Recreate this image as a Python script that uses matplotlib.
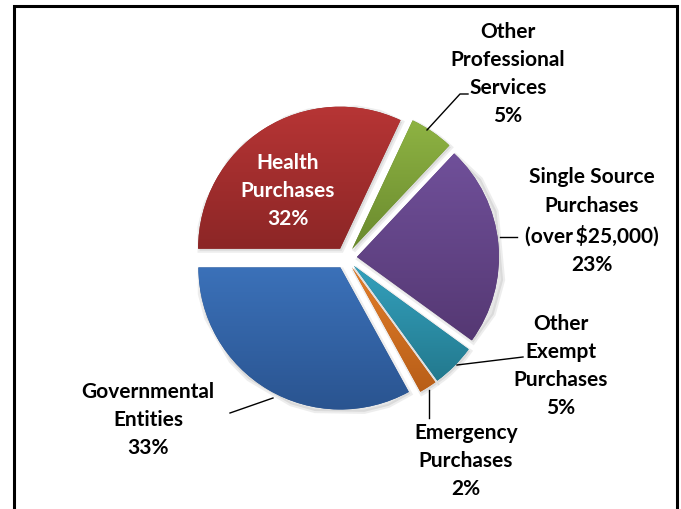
import numpy as np
import matplotlib
matplotlib.use("Agg")
import matplotlib.pyplot as plt
from matplotlib.colors import LinearSegmentedColormap

# slice data (counter-clockwise from 9 o'clock)
labels = ["Governmental\nEntities", "Emergency\nPurchases", "Other\nExempt\nPurchases",
          "Single Source\nPurchases\n(over\u2009$25,000)", "Other\nProfessional\nServices",
          "Health\nPurchases"]
shares = [33, 2, 5, 23, 5, 32]
top_colors = ["#3B71B9", "#E27E2A", "#33A0BC", "#70509A", "#8EB343", "#B73535"]
bottom_colors = ["#2A5490", "#B85E18", "#23798E", "#553873", "#6A8A2E", "#8C2626"]

W, H = 681, 509
fig = plt.figure(figsize=(W / 100, H / 100), dpi=100)
ax = fig.add_axes([0, 0, 1, 1])

cx, cy, r = 346, H - 258, 142
# explode is in data units here (pixels)
wedges, _ = ax.pie(shares, startangle=180, counterclock=True, radius=r, center=(cx, cy),
                   explode=[11] * len(shares), frame=False)

for w, c0, c1 in zip(wedges, top_colors, bottom_colors):
    verts = w.get_path().vertices
    # soft shadow
    sv = verts + np.array([1.5, -2.0])
    ax.fill(sv[:, 0], sv[:, 1], color="#8f8f8f", alpha=0.22, lw=3,
            edgecolor="#b0b0b0", zorder=0.5)
    w.set_facecolor(c1)
    w.set_edgecolor("none")
    w.set_zorder(1)
    x0, y0 = verts.min(axis=0)
    x1, y1 = verts.max(axis=0)
    cmap = LinearSegmentedColormap.from_list("g", [c1, c0])
    grad = np.linspace(0, 1, 256).reshape(-1, 1)
    im = ax.imshow(grad, cmap=cmap, origin="lower", extent=(x0, x1, y0, y1),
                   aspect="auto", zorder=1.5, interpolation="bilinear")
    im.set_clip_path(w)

font = dict(family=["Lato", "DejaVu Sans"], weight="bold", fontsize=15, ha="center",
            va="center", linespacing=1.52)

label_text = [l + f"\n{s}%" for l, s in zip(labels, shares)]
label_pos = [(148, 420), (466, 461), (561, 366), (592, 221), (508, 74), (288, 191)]
for i, (t, (x, y)) in enumerate(zip(label_text, label_pos)):
    ax.text(x, H - y, t, color="white" if i == 5 else "black", zorder=5, **font)

# leader lines
leaders = [
    [(230, 413), (273, 398)],
    [(429, 390), (429, 418)],
    [(457, 365), (523, 357)],
    [(500, 237), (517, 237)],
    [(427, 130), (460, 94), (468, 94)],
]
for pts in leaders:
    pts = np.array(pts, dtype=float)
    ax.plot(pts[:, 0], H - pts[:, 1], color="black", lw=1.0, zorder=4)

# frame around the chart
ax.plot([14, 14, 677, 677], [0, H - 6, H - 6, 0], color="black", lw=2.2,
        solid_joinstyle="miter", zorder=6)

ax.set_xlim(0, W)
ax.set_ylim(0, H)
ax.axis("off")
fig.savefig("out.png", dpi=100)
